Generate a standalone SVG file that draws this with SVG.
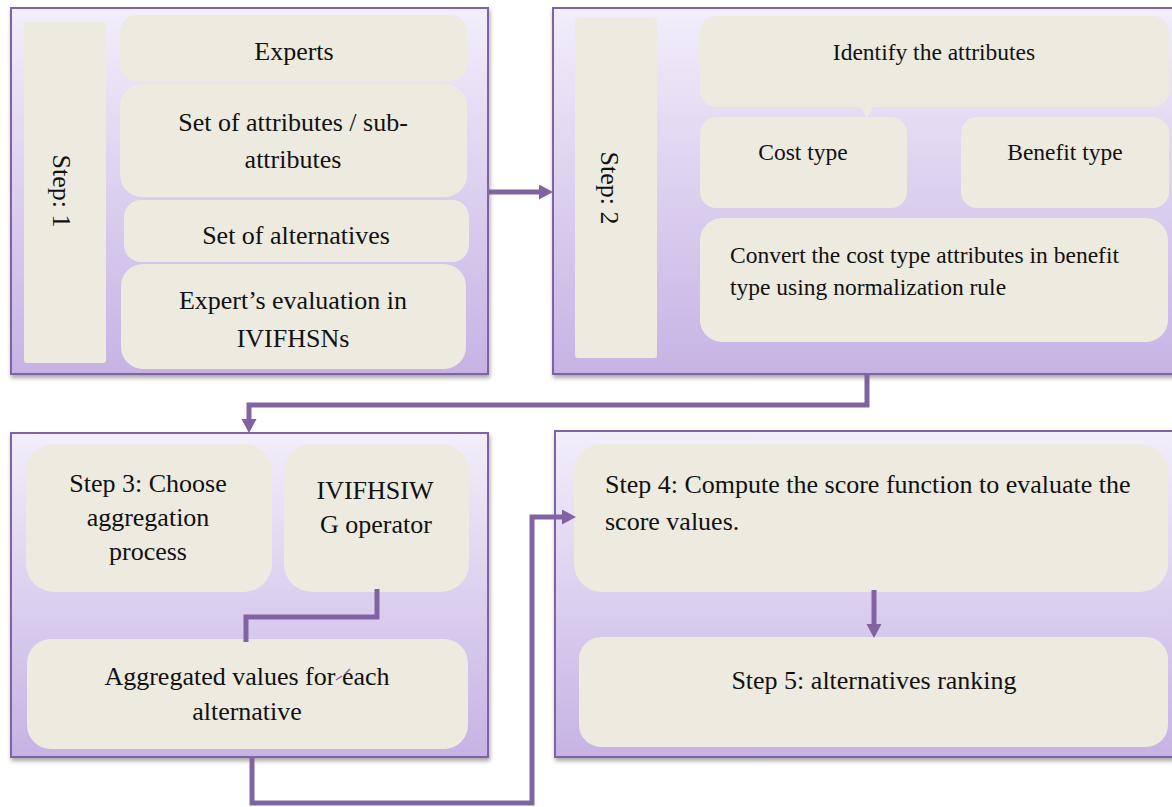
<svg xmlns="http://www.w3.org/2000/svg" width="1172" height="807" viewBox="0 0 1172 807">
<style>
.panel{stroke:#8064A2;stroke-width:2;fill:url(#pg);filter:url(#sh)}
.box{fill:#EDEAE0}
.t{font-size:26px;fill:#111}
.t2{font-size:23.5px;fill:#111}
.c{text-anchor:middle}
.conn{fill:none;stroke:#8064A2;stroke-width:5;stroke-linejoin:miter}
</style>
<defs>
<linearGradient id="pg" x1="0" y1="0" x2="0" y2="1">
<stop offset="0" stop-color="#F2EEFA"/>
<stop offset="0.5" stop-color="#DCD0EF"/>
<stop offset="1" stop-color="#C6B3E4"/>
</linearGradient>
<filter id="sh" x="-5%" y="-5%" width="110%" height="115%">
<feDropShadow dx="1" dy="3" stdDeviation="2" flood-color="#000" flood-opacity="0.35"/>
</filter>
<marker id="ah" markerUnits="userSpaceOnUse" markerWidth="16" markerHeight="16" refX="6" refY="7.5" orient="auto">
<path d="M0,0 L14,7.5 L0,15 z" fill="#8064A2"/>
</marker>
</defs>
<g font-family="'Liberation Serif', 'Times New Roman', 'DejaVu Serif', serif">
<g id="panel1">
<rect class="panel" x="11" y="8" width="477" height="366"/>
<rect class="box" x="24" y="22" width="82" height="341" rx="3"/>
<text class="t c" transform="translate(53,191) rotate(90)">Step: 1</text>
</g>
<g id="experts">
<rect class="box" x="120" y="15" width="347" height="66" rx="17"/>
<text class="t c" x="294" y="60">Experts</text>
</g>
<g id="attributes">
<rect class="box" x="120" y="84" width="347" height="113" rx="22"/>
<text class="t c" x="293" y="131">Set of attributes / sub-</text>
<text class="t c" x="293" y="168">attributes</text>
</g>
<g id="alternatives">
<rect class="box" x="124" y="200" width="345" height="62" rx="17"/>
<text class="t c" x="296" y="244">Set of alternatives</text>
</g>
<g id="evaluation">
<rect class="box" x="121" y="264" width="345" height="105" rx="22"/>
<text class="t c" x="293" y="309">Expert’s evaluation in</text>
<text class="t c" x="293" y="347">IVIFHSNs</text>
</g>

<g id="panel2">
<rect class="panel" x="553" y="8" width="630" height="366"/>
<rect class="box" x="575" y="18" width="82" height="340" rx="3"/>
<text class="t c" transform="translate(601,188) rotate(90)">Step: 2</text>
</g>
<g id="identify">
<rect class="box" x="700" y="16" width="469" height="91" rx="16"/>
<polygon class="box" points="860,106 874,106 867,118"/>
<text class="t2 c" x="934" y="60">Identify the attributes</text>
</g>
<g id="cost">
<rect class="box" x="700" y="117" width="207" height="91" rx="16"/>
<text class="t2 c" x="803" y="160">Cost type</text>
</g>
<g id="benefit">
<rect class="box" x="961" y="117" width="208" height="91" rx="16"/>
<text class="t2 c" x="1065" y="160">Benefit type</text>
</g>
<g id="convert">
<rect class="box" x="700" y="218" width="468" height="124" rx="22"/>
<text class="t2" x="730" y="263">Convert the cost type attributes in benefit</text>
<text class="t2" x="730" y="295">type using normalization rule</text>
</g>

<g id="panel3">
<rect class="panel" x="11" y="433" width="477" height="324"/>
</g>
<g id="step3">
<rect class="box" x="26" y="444" width="246" height="148" rx="28"/>
<text class="t c" x="148" y="492">Step 3: Choose</text>
<text class="t c" x="148" y="526">aggregation</text>
<text class="t c" x="148" y="560">process</text>
</g>
<g id="operator">
<rect class="box" x="284" y="444" width="185" height="148" rx="28"/>
<text class="t c" x="375" y="499">IVIFHSIW</text>
<text class="t c" x="376" y="533">G operator</text>
</g>
<g id="aggregated">
<rect class="box" x="27" y="639" width="441" height="110" rx="24"/>
<text class="t c" x="247" y="685">Aggregated values for each</text>
<text class="t c" x="247" y="720">alternative</text>
</g>

<g id="panel4">
<rect class="panel" x="555" y="431" width="630" height="326"/>
</g>
<g id="step4">
<rect class="box" x="574" y="444" width="594" height="148" rx="28"/>
<text class="t" x="605" y="493">Step 4: Compute the score function to evaluate the</text>
<text class="t" x="605" y="530">score values.</text>
</g>
<g id="step5">
<rect class="box" x="579" y="637" width="589" height="110" rx="22"/>
<text class="t c" x="874" y="689">Step 5: alternatives ranking</text>
</g>
</g>
<g id="connectors">
<path class="conn" d="M488,192 H545" marker-end="url(#ah)"/>
<path class="conn" d="M867,374 V405 H249 V425" marker-end="url(#ah)"/>
<path class="conn" d="M377,589 V617 H246 V642"/>
<path class="conn" d="M252,757 V803 H532 V517 H568" marker-end="url(#ah)"/>
<path class="conn" d="M874,590 V630" marker-end="url(#ah)"/>
<path d="M336,680 L342,676 M345,674 L350,669" stroke="#8064A2" stroke-width="1.5" fill="none"/>
</g>
</svg>
